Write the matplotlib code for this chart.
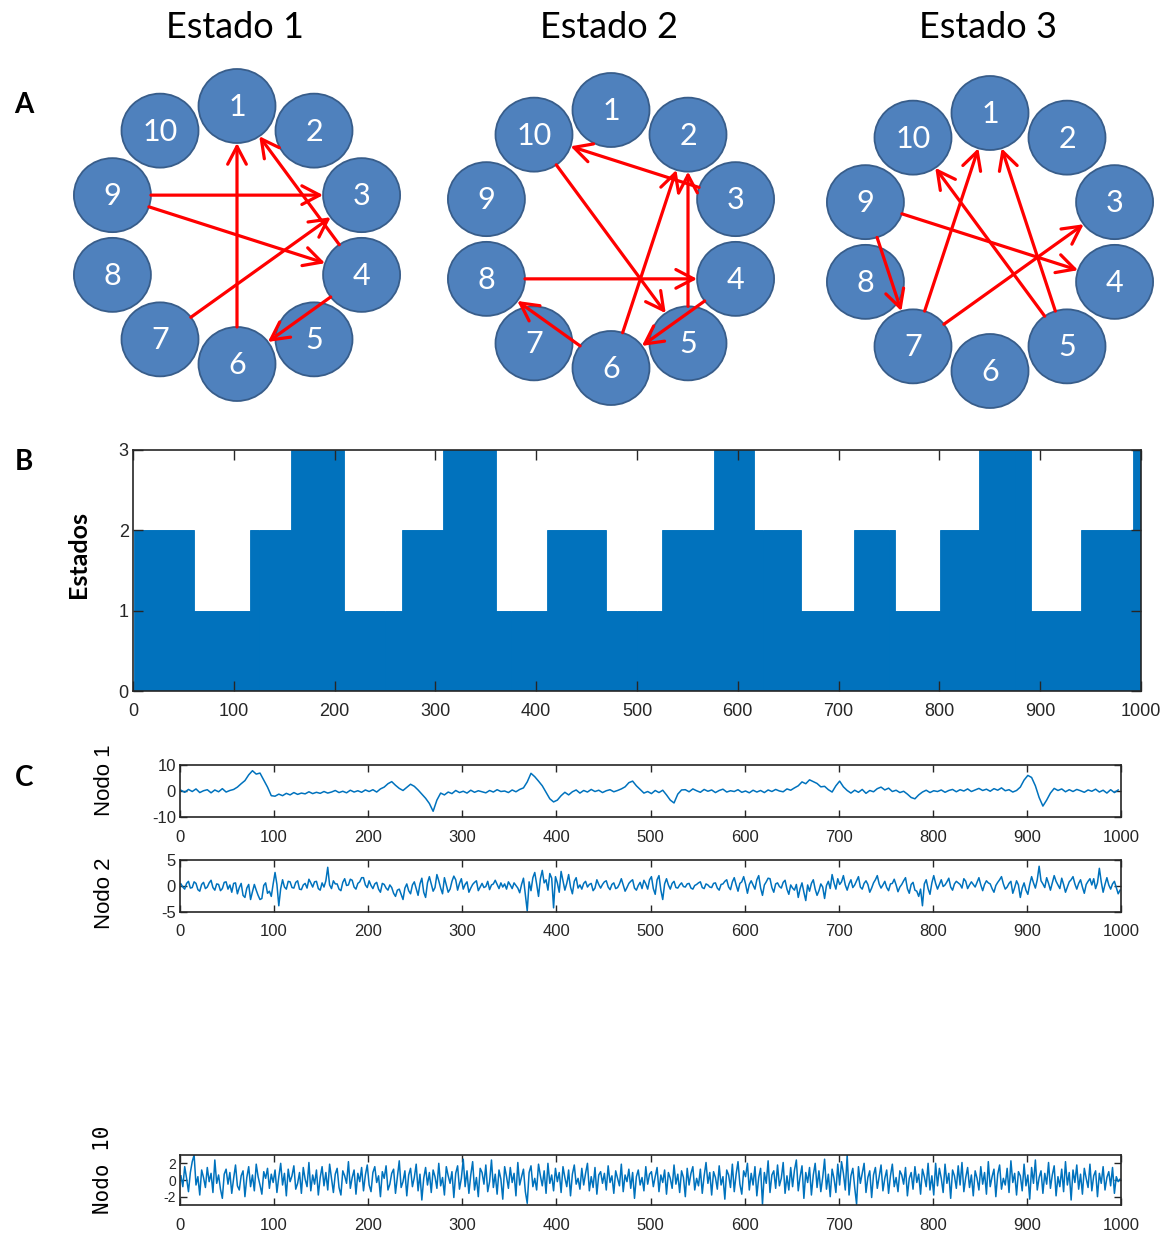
import numpy as np
import matplotlib
matplotlib.use("Agg")
import matplotlib.pyplot as plt
from matplotlib.patches import Ellipse, FancyArrowPatch, ArrowStyle

plt.rcParams["axes.unicode_minus"] = False
W, H = 1170, 1234

# ---- A: redes dirigidas por estado ----
node_ids = list(range(1, 11))
edges_e1 = [(9, 3), (9, 4), (7, 3), (4, 1), (4, 6), (6, 1)]
edges_e2 = [(3, 10), (6, 2), (5, 2), (6, 8), (8, 4), (10, 5), (4, 6)]
edges_e3 = [(9, 4), (9, 7), (7, 1), (7, 3), (5, 1), (5, 10)]
titles = ["Estado 1", "Estado 2", "Estado 3"]

# ---- B: secuencia de estados ----
seg_start = [0, 60, 116, 156, 209, 266, 307, 360, 410, 469, 524, 576,
             616, 662, 715, 755, 800, 839, 890, 940, 992]
seg_state = [2, 1, 2, 3, 1, 2, 3, 1, 2, 1, 2, 3, 2, 1, 2, 1, 2, 3, 1, 2, 3]
n_steps = 1000

# ---- C: series por nodo ----
# nodo 1 muestreado cada 4 pasos
nodo1 = [0.3, -0.5, 0.6, -0.2, 0.8, -0.6, 0.1, 0.5, -0.7, 0.4, -0.3, 0.9, -0.4, 0.2, 0.6,
         1.5, 2.8, 4.0, 6.2, 7.8, 6.5, 6.9, 4.2, 1.5, -1.8,
         -2.0, -1.2, -1.8, -0.9, -1.5, -0.6, -1.3, -0.8, -1.1, -0.3, -1.0, -0.5, -0.9,
         -0.2, -0.8, -0.4, 0.2, -0.6, -0.1, -0.7, 0.3, -0.4, 0.1, -0.5, 0.4,
         -0.2, 0.5, -0.4, 0.8, 1.5,
         2.8, 3.6, 2.2, 1.0, 0.2, 1.4,
         2.6, 1.8, 0.4, -1.2, -2.8, -4.8, -7.8, -3.5, -0.8, -1.5,
         -0.4, -1.0, 0.2, -0.6, -0.1, -0.8, 0.3, -0.5, 0.1, -0.3, -0.7, 0.2, -0.4, 0.5,
         -0.2, 0.0, -0.6, 0.4, -0.3, 0.6, 1.2,
         3.5, 6.8, 5.5, 3.8, 2.0, -0.5, -3.0, -4.2, -3.5, -1.8, -0.5, -1.5,
         -0.3, 0.4, -0.8, 0.2, -0.4, 0.6, -0.2, 0.3, -0.6, 0.1, 0.5, -0.3, 0.2, 0.8,
         1.6, 3.2, 3.8, 2.0, 0.6, -0.8, -0.2,
         -1.0, 0.2, -0.6, 0.3, -1.5,
         -3.5, -4.6, -1.2, 0.4,
         0.5, -0.3, 0.8, 0.1, -0.5, 0.6, -0.1, 0.4, -0.6, 0.2, 0.7, -0.4, 0.1, -0.2, 0.5,
         -0.5, 0.0, -0.7, 0.3, -0.4, 0.2, -0.6, 0.4, -0.2, 0.6, 0.0, -0.3, 0.8, 0.3, 1.2,
         2.0, 3.5, 2.8, 4.3, 3.6, 2.9, 1.6, 1.8, 0.5, -0.4,
         2.0, 3.8, 1.6, 0.2,
         -0.8, 0.3, -0.5, 0.6, -0.9, 0.2, -0.3, 0.9, 1.5, 0.4, 1.1, -0.2, 0.3, -0.6, -0.1, -1.2,
         -2.5, -3.0, -1.5,
         -0.4, 0.3, -0.6, 0.1, -0.2, 0.4, -0.5, 0.2, 0.6, -0.3, 0.5, 0.0, 0.8, -0.2,
         0.4, 1.0, 0.2, 0.7, -0.1, 0.9, 0.3, 1.2, 0.1, 0.5, -0.4, 0.2, 1.5,
         4.2, 6.0, 5.2, 2.0, -2.5, -5.8, -3.5, -0.8, 1.0,
         0.2, 0.8, -0.3, 0.5, -0.2, 0.6, 0.1, -0.5, 0.4, -0.1, 0.7, -0.4, 0.3, -0.8, 0.5, -0.6, 0.4]

# nodos 2 y 10 muestreados cada 2 pasos (filas de 50 pasos)
nodo2 = [0.4, -0.2, -0.6, 0.5, 0.9, -0.4, -0.3, 0.8, 0.5, -0.7, -1.0, 0.3, 0.7, -0.5, -0.2, 0.6, 1.1, -0.3, -0.8, 0.4, 0.3, -0.9, -0.5, 0.7, 0.8,
         -0.6, 0.2, -1.2, 0.5, 0.6, -1.5, -0.3, 0.5, -1.8, -2.2, -0.4, 0.3, -2.6, -1.1, 0.3, -0.8, -1.8, -2.6, -2.4, 0.1, 0.6, -1.4, -1.0, -2.0, 0.4,
         2.6, 0.3, -3.8, -0.5, 1.2, -0.2, -0.6, 0.9, 0.8, -0.3, -0.4, 0.7, 1.0, -0.6, -0.7, 0.2, 0.5, -0.4, 1.3, 0.6, -0.2, 0.8, 0.9, -0.5, -0.8,
         0.6, -0.2, 1.0, 3.6, 0.2, -0.5, 1.0, 0.4, 0.4, -0.6, -0.9, 0.7, 1.4, 0.1, 0.2, 1.3, 1.1, -0.2, -0.6, 0.5, 0.8, 1.6, 1.6, 0.2, -0.3,
         1.0, 0.1, -0.5, 0.4, 0.7, -0.6, -1.2, 0.5, 0.3, -0.4, -0.8, 0.2, -0.3, -1.4, -2.0, -0.8, -0.6, -1.6, -2.6, -0.4, 0.4, -0.9, -1.5, 0.2, 0.8,
         -0.5, -1.8, 0.4, 1.5, -1.2, -2.2, 0.6, 1.8, 0.4, -1.0, -0.3, 2.2, 1.0, -0.4, -1.5, 1.6, 0.2, -1.2, -0.6, 0.9, 1.9, 1.2, -0.8, 0.5, 1.4,
         -0.6, 0.3, 0.8, -1.2, -0.4, 0.3, 0.7, 1.0, -0.9, -0.2, 0.5, -0.3, -0.1, 0.9, -0.7, 0.2, 0.4, 1.1, 0.3, -0.5, 0.6, -0.2, 0.4, -0.6, 0.8,
         0.2, -0.5, 0.6, 0.1, -0.4, -1.3, 0.3, 1.5, -1.6, -4.8, 0.8, -0.9, 1.6, 2.6, 0.4, -2.0, 1.4, 3.0, 0.6, 1.2, -0.8, 2.4, 1.5, -4.2, 1.8,
         0.6, -1.2, 2.8, 1.0, -0.8, 0.5, 2.2, -0.2, -1.5, 0.9, 1.6, -0.4, 0.2, -0.6, 0.5, 0.9, -0.2, 0.3, 0.5, -0.9, -0.4, 1.2, 0.3, -0.4, 0.3,
         0.8, 1.0, -0.2, -0.7, 0.3, 0.6, -0.5, -0.3, 0.4, 1.4, 0.2, -1.0, -0.3, 0.5, 0.9, 1.2, -0.4, -0.8, 0.1, 0.7, -0.5, 1.1, 0.4, -0.6, 1.2,
         1.8, -0.5, -1.6, 1.2, 2.0, -0.8, -2.6, 0.4, 1.4, 0.2, -0.6, 0.5, 0.9, -0.3, -0.4, 0.2, 0.6, -0.1, -0.2, 0.4, 0.5, -0.4, -0.6, 0.1, 0.3,
         0.6, 0.8, -0.3, -0.5, 0.4, 0.2, -0.2, -0.3, 0.5, 0.6, -0.4, -0.8, 0.3, 0.4, 0.9, 1.2, -0.2, -0.7, 0.8, 1.6, 0.2, -1.0, 0.5, 0.8, 1.8,
         0.4, -1.4, 0.3, 1.0, 0.2, -0.6, 1.2, 2.0, -0.4, -1.8, 0.2, 0.8, 1.5, 1.4, -0.3, -1.2, 0.4, 0.6, -0.1, -0.4, 0.7, 1.1, -0.6, -1.6, 0.2,
         -0.4, -0.8, 0.3, -2.2, -0.5, 0.6, -1.2, -2.8, 0.2, -1.0, 0.5, 1.2, -0.6, -1.8, -0.9, 0.4, -0.2, -2.4, 0.1, 0.9, -0.5, 2.2, 0.6, -0.6, 1.4,
         0.3, 0.8, 2.0, 0.2, -0.8, 0.4, 1.2, -0.3, 0.2, 1.0, 1.8, -0.2, -0.6, 0.5, 1.0, 0.3, -1.2, -0.4, 0.6, 1.2, 2.0, 0.4, -0.4, 0.2, 0.9,
         -0.3, -0.9, 0.4, 0.5, 1.3, 0.2, -1.1, -0.2, 0.3, 1.0, 1.6, -0.5, -1.4, 0.3, 0.7, -0.8, -1.0, -2.0, -0.6, -3.8, 0.4, 1.2, -0.5, -1.6, 0.6,
         2.0, 0.5, -0.6, 0.3, 1.2, -0.1, 0.2, 0.8, 1.5, -0.2, -0.8, 0.4, 0.9, 0.6, 0.3, -0.4, 1.4, 0.9, -0.5, 0.2, 0.8, 0.3, -0.2, 0.7, 1.6,
         0.2, -0.9, 0.3, 1.0, 0.6, 0.4, -0.5, -1.2, 0.1, 0.7, 1.2, 1.8, 0.4, -0.6, -0.2, 0.5, 0.9, -1.4, -0.3, 1.0, 0.2, -2.2, -0.4, 0.6, -0.8,
         -1.6, 0.3, 1.8, 0.6, -0.4, 1.2, 3.8, 1.0, 0.4, -0.3, 1.6, 0.5, -0.8, 0.6, 2.0, 0.9, 0.2, -0.5, 1.5, 0.3, -1.2, -0.2, 0.8, 1.2, 1.8,
         0.4, -0.6, 0.5, 1.2, -0.2, -1.4, 0.3, 0.9, 1.4, 0.2, 1.4, -0.5, 0.6, 3.4, 0.8, -1.2, 0.3, 1.6, 0.2, -0.6, 0.4, 0.9, -0.3, -1.5, -0.8]

nodo10 = [0.5, -0.8, 1.6, 0.2, -1.4, 0.9, 2.2, 3.0, -0.6, 0.4, -1.8, 1.2, 0.3, -0.9, 1.5, -0.2, 0.8, -1.5, 2.4, -0.4, 0.6, -1.1, -2.2, 0.7, 1.3,
          -0.5, 0.9, -1.6, 0.2, 1.8, -0.7, -1.2, 0.5, 1.1, -2.0, 0.3, 1.6, -0.8, 0.6, -1.3, 1.9, 0.4, -0.6, -1.7, 1.0, 0.2, 1.4, -1.0, 0.7, -0.3,
          1.2, -1.5, 0.4, 2.0, -0.6, 0.8, -1.9, 1.3, -0.2, 0.5, 1.7, -1.1, -0.4, 0.9, -1.6, 1.5, 0.1, -0.8, 2.1, -1.3, 0.6, -0.5, 1.2, -1.8, 0.3,
          1.6, -0.7, 0.9, -1.2, 1.9, 0.2, -1.5, 0.7, 1.4, -0.9, -1.8, 1.1, 0.5, -0.4, 2.2, -1.0, 0.3, 1.2, -1.7, 0.8, -0.2, 1.5, -1.3, 0.6, 1.8,
          -0.6, -1.4, 0.9, 1.6, -0.3, 0.5, -2.0, 1.0, 0.2, 1.7, -1.2, -0.5, 0.8, 1.3, -1.6, 0.4, 2.3, -0.9, -0.2, 1.1, -1.9, 0.6, 1.4, -0.8, 0.3,
          1.9, -1.3, 0.7, -2.4, 0.2, 1.5, -0.6, 0.9, -1.5, 1.2, 0.4, -1.0, 2.0, -0.7, 0.3, -1.8, 1.6, 0.5, -0.4, 1.0, -2.1, 0.8, 1.7, -1.1, 0.2,
          2.5, -0.8, 1.1, -1.6, 0.6, 2.2, -1.2, 0.3, -2.0, 1.4, 0.9, -0.5, 1.8, -1.4, -0.2, 2.4, -0.9, 0.7, -1.7, 1.2, 0.1, -2.3, 1.6, 0.4, -1.0,
          1.5, -0.3, 0.8, -1.9, 2.1, -0.6, 0.4, 1.3, -1.4, -2.8, 0.9, 1.7, -0.8, 0.2, -1.2, 1.9, 0.5, -0.7, 1.1, -1.6, 2.0, -0.4, 0.6, -1.3, 1.4,
          -0.2, 0.9, -1.5, 1.6, 0.3, -0.8, 1.2, -1.9, 0.7, 1.8, -0.5, 0.2, -1.1, 1.4, -0.6, 0.8, 2.0, -1.3, 0.4, -0.9, 1.5, -1.7, 0.6, 1.0, -0.4,
          0.8, -1.2, 1.7, -0.3, 0.5, -1.6, 1.1, 0.2, -0.7, 1.9, -1.4, 0.6, -0.2, 1.3, -1.0, 0.9, -2.2, 0.4, 1.2, -0.6, 0.3, -1.3, 1.6, -0.5, 0.7,
          1.0, -0.8, 0.4, 1.5, -1.4, 0.6, -0.3, 1.2, -1.7, 0.9, 0.2, -1.0, 1.8, -0.5, 0.7, -1.5, 1.1, 0.3, -2.0, 1.4, -0.6, 0.8, 1.6, -1.2, 0.2,
          -0.7, 1.3, -1.6, 0.5, 2.1, -0.4, 0.9, -1.8, 1.0, 0.3, -1.1, 1.7, -0.6, 0.4, -2.3, 1.2, 0.6, -0.9, 1.9, -1.4, 0.7, 2.2, -0.5, -1.7, 1.1,
          0.4, 2.0, -1.2, 0.8, -0.6, 1.6, -1.9, 0.3, 1.4, -2.9, 0.9, -0.4, 2.3, -1.5, 0.6, 1.1, -1.0, 1.8, -0.7, 0.2, 2.1, -1.6, 0.5, -1.2, 1.5,
          -0.8, 1.2, 2.4, -1.3, 0.4, 1.7, -2.2, 0.9, -0.3, 1.5, -1.8, 0.6, 2.0, -0.9, 1.1, -1.4, 0.3, 2.5, -1.1, 0.7, -2.0, 1.3, 0.2, -1.5, 1.9,
          -0.6, 2.2, 0.8, -1.2, 3.0, -1.8, 0.5, 1.4, -0.9, -2.9, 1.6, -0.4, 0.8, 2.0, -1.5, 0.3, 1.1, -2.1, 0.6, 1.5, -1.0, 0.4, 1.8, -1.3, 0.2,
          1.2, -1.6, 0.5, 1.9, -0.8, 0.3, -1.4, 1.1, 0.6, -0.5, 1.5, -1.9, 0.2, 0.9, -1.1, 1.6, -0.3, 0.7, -1.7, 1.3, 0.4, -0.8, 2.0, -1.2, 0.5,
          -1.8, 2.0, -0.7, 1.4, 0.2, -1.5, 1.9, -0.4, 0.8, -2.2, 1.2, 0.5, -1.0, 1.7, -0.6, 2.1, -1.4, 0.3, 1.5, -0.9, 0.6, -1.9, 1.1, 0.2, -1.2,
          1.6, -0.5, 0.9, -1.7, 2.2, -0.8, 0.4, 1.3, -2.0, 0.7, 1.8, -1.1, 0.2, -0.6, 1.4, -1.5, 2.3, -0.3, 0.8, -1.8, 1.0, 0.5, -1.3, 1.9, -0.7,
          0.6, -2.3, 1.5, -0.4, 2.4, -1.2, 0.3, 1.1, -1.6, 0.8, -0.5, 2.1, -1.0, 0.6, 1.7, -1.9, 0.4, -0.8, 1.3, -1.4, 2.2, -0.6, 0.9, -2.4, 1.2,
          -0.3, 1.8, -1.1, 0.7, -1.7, 1.4, 0.2, -0.9, 1.9, -1.3, 0.5, 1.1, -2.0, 0.8, -0.4, 1.6, -1.2, 0.3, 1.0, -0.7, 1.5, -1.6, 0.4, -0.2, 0.1]

BLUE = "#0072BD"
NODE_FACE = "#4F81BD"
NODE_EDGE = "#385D8A"
AXC = "#262626"
TXT_FONT = ["Lato", "DejaVu Sans"]
TICK_FONT = ["Liberation Sans", "DejaVu Sans"]


def px_rect(l, t, r, b):
    return [l / W, 1 - b / H, (r - l) / W, (b - t) / H]


def node_xy(k, cx, cy, rx=131, ry=129):
    th = np.deg2rad((k - 1) * 36)
    return cx + rx * np.sin(th), cy - ry * np.cos(th)


def ell_r(dx, dy, a=38.5, b=37):
    d = np.hypot(dx, dy)
    c, s = dx / d, dy / d
    return a * b / np.hypot(b * c, a * s)


def draw_net(ax, cx, cy, edges, title):
    pos = {k: node_xy(k, cx, cy) for k in node_ids}
    for k, (x, y) in pos.items():
        ax.add_patch(Ellipse((x, y), 77, 74, facecolor=NODE_FACE,
                             edgecolor=NODE_EDGE, lw=1.3, zorder=2))
        ax.text(x, y + 1, str(k), color="white", fontsize=22, family=TXT_FONT,
                ha="center", va="center", zorder=3)
    style = ArrowStyle("->", head_length=0.8, head_width=0.42)
    for a, b in edges:
        (x0, y0), (x1, y1) = pos[a], pos[b]
        dx, dy = x1 - x0, y1 - y0
        d = np.hypot(dx, dy)
        r = ell_r(dx, dy)
        p0 = (x0 + dx / d * r, y0 + dy / d * r)
        p1 = (x1 - dx / d * r, y1 - dy / d * r)
        ax.add_patch(FancyArrowPatch(p0, p1, arrowstyle=style, mutation_scale=16,
                                     color="#FF0000", lw=2.3, shrinkA=0, shrinkB=0,
                                     zorder=4))
    ax.text(cx - 2, 27, title, fontsize=26, family=TXT_FONT, ha="center",
            va="center", color="black")


fig = plt.figure(figsize=(W / 100, H / 100), dpi=100)

# capa de anotaciones en pixeles
ov = fig.add_axes([0, 0, 1, 1])
ov.set_xlim(0, W)
ov.set_ylim(H, 0)
ov.axis("off")

for (cx, cy), edges, ttl in zip([(237, 235), (611, 239), (990, 242)],
                                [edges_e1, edges_e2, edges_e3], titles):
    draw_net(ov, cx, cy, edges, ttl)

for lab, y in [("A", 105), ("B", 462), ("C", 778)]:
    ov.text(24, y, lab, fontsize=20, fontweight="bold", family=TXT_FONT,
            ha="center", va="center")

ov.text(78, 555, "Estados", fontsize=18, fontweight="bold", family=TXT_FONT,
        rotation=90, ha="center", va="center")
ov.text(105, 780, "Nodo 1", fontsize=16, family=TICK_FONT, rotation=90,
        ha="center", va="center")
ov.text(105, 893, "Nodo 2", fontsize=16, family=TICK_FONT, rotation=90,
        ha="center", va="center")
ov.text(103, 1170, "Nodo 10", fontsize=15, family=["DejaVu Sans Mono"],
        rotation=90, ha="center", va="center")

# ---- B ----
bounds = seg_start + [n_steps]
states = np.repeat(seg_state, np.diff(bounds))
t = np.arange(1, n_steps + 1)

axb = fig.add_axes(px_rect(133, 450, 1141, 691))
axb.bar(t, states, width=1.0, color=BLUE, edgecolor=BLUE, linewidth=0.6)
axb.set_xlim(0, 1000)
axb.set_ylim(0, 3)
axb.set_xticks(np.arange(0, 1001, 100))
axb.set_yticks([0, 1, 2, 3])


def style_ax(ax, fs, tl, xpad):
    ax.tick_params(direction="in", top=True, right=True, length=tl, width=1,
                   colors=AXC, labelsize=fs, pad=3)
    ax.tick_params(axis="x", pad=xpad)
    for lbl in ax.get_xticklabels() + ax.get_yticklabels():
        lbl.set_family(TICK_FONT)
    for sp in ax.spines.values():
        sp.set_color(AXC)
        sp.set_linewidth(1.2)
        sp.set_zorder(5)


style_ax(axb, 13, 7, 9)

# ---- C ----
panels = [
    (nodo1, 4, (180, 765, 1121, 817), (-10, 10), [-10, 0, 10], 12),
    (nodo2, 2, (180, 860, 1121, 912), (-5, 5), [-5, 0, 5], 12),
    (nodo10, 2, (180, 1155, 1121, 1205), (-3, 3), [-2, 0, 2], 10),
]
for vals, step, rect, ylim, yt, fs in panels:
    x = 1 + step * np.arange(len(vals))
    ax = fig.add_axes(px_rect(*rect))
    ax.plot(x, vals, color=BLUE, lw=1.1)
    ax.set_xlim(0, 1000)
    ax.set_ylim(*ylim)
    ax.set_xticks(np.arange(0, 1001, 100))
    ax.set_yticks(yt)
    style_ax(ax, fs, 5, 9)
    ax.tick_params(axis="x", labelsize=12)

fig.savefig("out.png", dpi=100)
